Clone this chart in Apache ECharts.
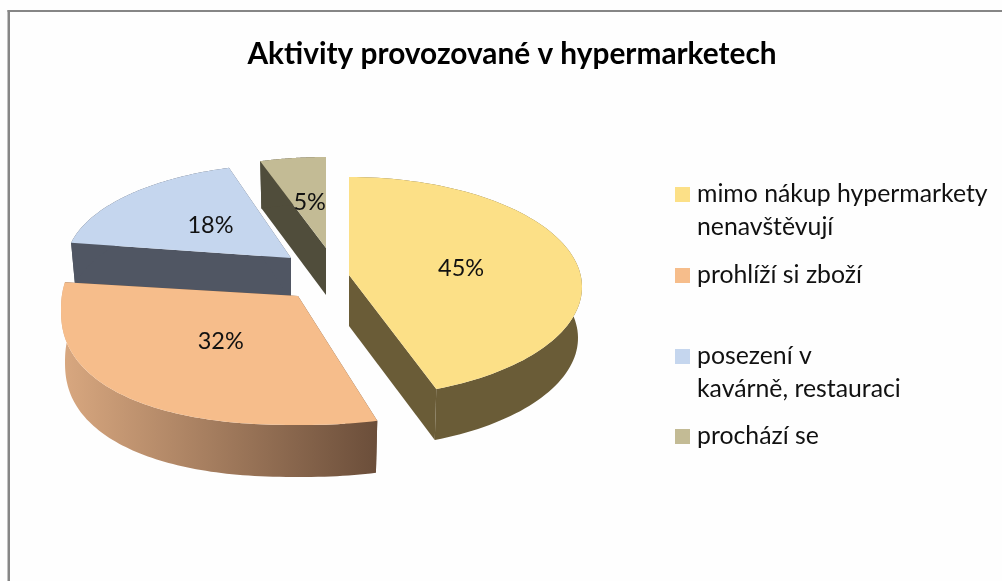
<!DOCTYPE html>
<html>
<head>
<meta charset="utf-8">
<style>html,body{margin:0;padding:0;background:#fefefe}#c{width:1002px;height:581px}</style>
<script src="https://cdn.jsdelivr.net/npm/echarts@6/dist/echarts.min.js"></script>
</head>
<body>
<div id="c"></div>
<script>
// data
const chartTitle = 'Aktivity provozované v hypermarketech';
const categories = ['mimo nákup hypermarkety\nnenavštěvují', 'prohlíží si zboží', 'posezení v\nkavárně, restauraci', 'prochází se'];
const shares = [45, 32, 18, 5];

// styles and layout of the tilted, exploded pie
const topColors = ['#fce087', '#f6bd8b', '#c5d6ee', '#c3bb95'];
const sideColors = [
  '#6a5c37',
  {type:'linear', x:0, y:0, x2:1, y2:0, colorStops:[{offset:0,color:'#d9a880'},{offset:1,color:'#6b4e3a'}]},
  '#505663',
  '#504d3b'
];
const pieCentre = [320, 275];
const explode = [[29, 0], [-22, 21], [-29, -17], [6, -27]];
const radiusX = [233, 237, 225, 225];
const radiusY = [110, 115, 100, 96];
const rimDrop = [12, 14, 6, 5];
const rimPower = [1, 0.87, 1, 1];
const depth = [51, 52, 42, 47];
const perspectiveShift = [[0, -4], [1.5, 4], [5, 2], [1, 0]];
const labelReach = [0.49, 0.46, 0.49, 0.49];
const zOrder = [5, 4, 3, 2];
const legendTops = [145, 259, 307, 420];
const total = shares.reduce((a, b) => a + b, 0);
const FONT = 'Lato, "Open Sans", sans-serif';

function makeRender(i) {
  return function (params, api) {
    const value = api.value(0), before = api.value(1);
    const a0 = before / total * 360 + perspectiveShift[i][0];
    const a1 = (before + value) / total * 360 + perspectiveShift[i][1];
    const apex = [pieCentre[0] + explode[i][0], pieCentre[1] + explode[i][1]];
    const bend = v => Math.sign(v) * Math.pow(Math.abs(v), rimPower[i]);
    const rim = (deg, dy, shrink) => {
      const r = deg * Math.PI / 180;
      return [apex[0] + (radiusX[i] - shrink) * bend(Math.sin(r)),
              apex[1] + rimDrop[i] + dy - radiusY[i] * bend(Math.cos(r))];
    };
    const arc = (dy, shrink) => {
      const pts = [];
      for (let k = 0; k <= 90; k++) pts.push(rim(a0 + (a1 - a0) * k / 90, dy, shrink));
      return pts;
    };
    const d = depth[i];
    const low = [apex[0], apex[1] + d];
    const top = arc(0, 0), bottom = arc(d, 4);
    const solid = sideColors[i].colorStops ? sideColors[i].colorStops[1].color : sideColors[i];
    const poly = (points, fill) => ({type:'polygon', shape:{points}, style:{fill}});
    const mid = (a0 + a1) / 2;
    const rimMid = rim(mid, 0, 0);
    const f = labelReach[i];
    return {
      type: 'group',
      children: [
        poly([apex, top[0], bottom[0], low], solid),
        poly([apex, top[90], bottom[90], low], solid),
        poly(top.concat(bottom.slice().reverse()), sideColors[i]),
        poly([apex].concat(top), topColors[i]),
        {type:'text', style:{
          text: Math.round(value / total * 100) + '%',
          x: apex[0] + (rimMid[0] - apex[0]) * f,
          y: apex[1] + (rimMid[1] - apex[1]) * f - 2,
          align:'center', verticalAlign:'middle',
          fill:'#111', font:'23.5px ' + FONT
        }}
      ]
    };
  };
}

let running = 0;
const series = categories.map((name, i) => {
  const s = {
    type:'custom', name, coordinateSystem:'none', z: zOrder[i], silent:true,
    itemStyle:{color: topColors[i]},
    data:[[shares[i], running]],
    renderItem: makeRender(i)
  };
  running += shares[i];
  return s;
});

const legend = categories.map((name, i) => ({
  orient:'vertical', left:675, top:legendTops[i], data:[name], selectedMode:false,
  icon:'rect', itemWidth:15, itemHeight:15, padding:0,
  formatter: n => n.indexOf('\n') >= 0 ? '\n' + n : n,
  textStyle:{fontFamily:FONT, fontSize:24.8, lineHeight:33, color:'#111', padding:[0,0,0,2]}
}));

const chart = echarts.init(document.getElementById('c'), null, {renderer:'canvas'});
chart.setOption({
  animation:false,
  backgroundColor:'#fefefe',
  title:{text:chartTitle, left:507, top:34, textAlign:'center',
    textStyle:{fontFamily:FONT, fontSize:29.8, fontWeight:'bold', color:'#000'}},
  legend,
  series,
  graphic:[
    {type:'rect', shape:{x:7.5, y:10, width:2.5, height:571}, style:{fill:'#868686'}},
    {type:'rect', shape:{x:7.5, y:10, width:994.5, height:2}, style:{fill:'#868686'}}
  ]
});
</script>
</body>
</html>
